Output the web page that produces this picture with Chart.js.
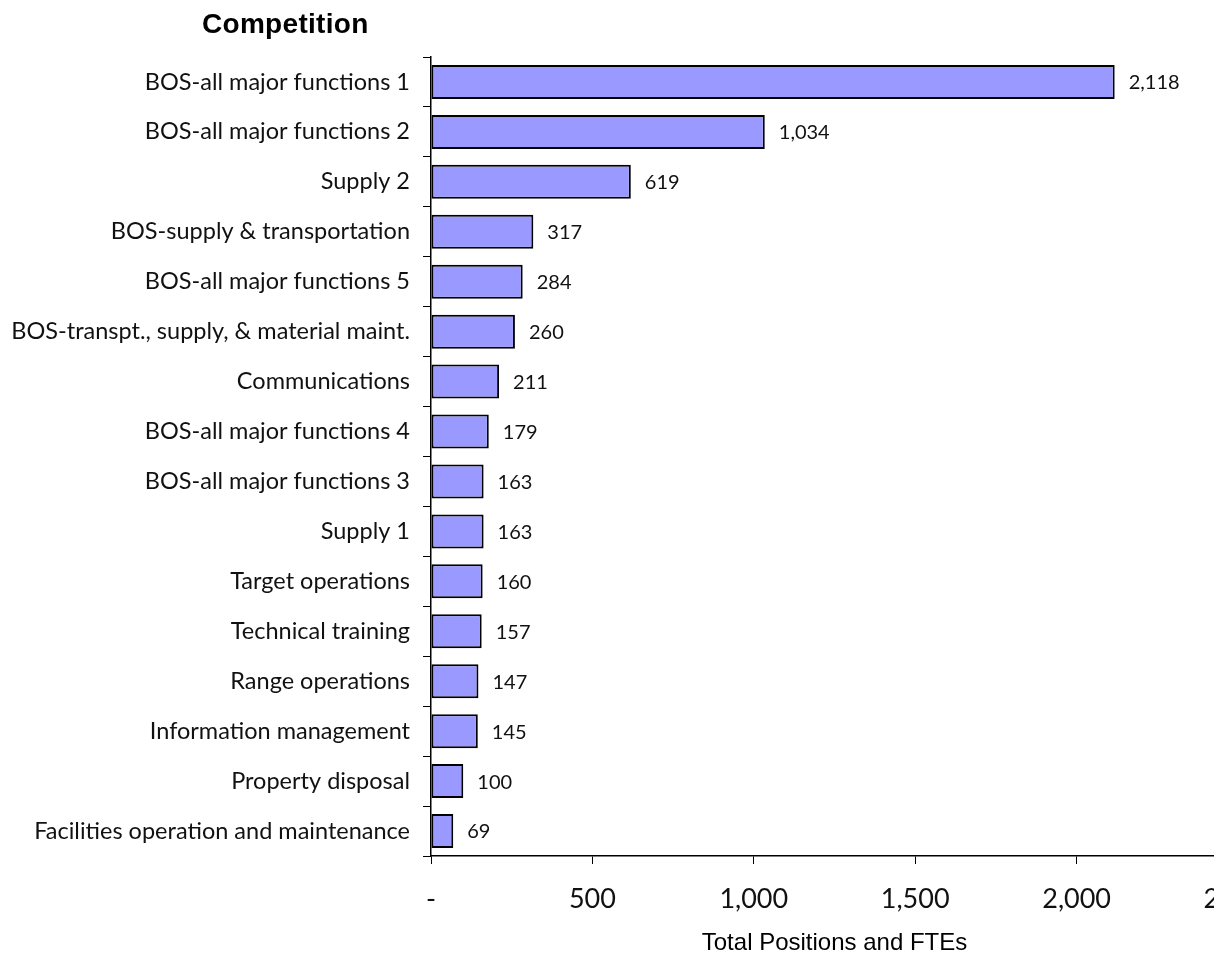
<!DOCTYPE html>
<html>
<head>
<meta charset="utf-8">
<script src="https://cdn.jsdelivr.net/npm/chart.js@4/dist/chart.umd.min.js"></script>
<style>
  body { margin: 0; background: #fff; }
  #wrap { position: relative; width: 1214px; height: 958px; overflow: hidden; }
  #title {
    position: absolute; left: 202px; top: 10px;
    font: bold 28px "Liberation Sans", Arial, sans-serif; line-height: 28px;
    letter-spacing: 0.3px; color: #000;
  }
  canvas { position: absolute; left: 0; top: 0; }
</style>
</head>
<body>
<div id="wrap">
  <canvas id="competitionChart" width="1300" height="958"></canvas>
  <div id="title">Competition</div>
</div>
<script>
var functions = [
  'BOS-all major functions 1',
  'BOS-all major functions 2',
  'Supply 2',
  'BOS-supply & transportation',
  'BOS-all major functions 5',
  'BOS-transpt., supply, & material maint.',
  'Communications',
  'BOS-all major functions 4',
  'BOS-all major functions 3',
  'Supply 1',
  'Target operations',
  'Technical training',
  'Range operations',
  'Information management',
  'Property disposal',
  'Facilities operation and maintenance'
];
var positions = [2118, 1034, 619, 317, 284, 260, 211, 179, 163, 163, 160, 157, 147, 145, 100, 69];
var xTicks = [0, 500, 1000, 1500, 2000, 2500];

function fmt(v) {
  return v === 0 ? '-' : v.toLocaleString('en-US');
}

// writes the value just past the end of each bar
var barValues = {
  id: 'barValues',
  afterDatasetsDraw: function(chart) {
    var ctx = chart.ctx;
    var meta = chart.getDatasetMeta(0);
    ctx.save();
    ctx.font = '20px Lato';
    ctx.fillStyle = '#111';
    ctx.textAlign = 'left';
    ctx.textBaseline = 'middle';
    meta.data.forEach(function(bar, i) {
      ctx.fillText(fmt(positions[i]), bar.x + 14, bar.y + 1);
    });
    ctx.restore();
  }
};

var ctx = document.getElementById('competitionChart').getContext('2d');
var chart = new Chart(ctx, {
  type: 'bar',
  data: {
    labels: functions,
    datasets: [{
      data: positions,
      backgroundColor: '#9999ff',
      borderColor: '#000',
      borderWidth: 2,
      borderSkipped: false,
      categoryPercentage: 1,
      barPercentage: 0.68
    }]
  },
  options: {
    indexAxis: 'y',
    responsive: false,
    animation: false,
    layout: { padding: { top: 57, right: 62, left: 0, bottom: 0 } },
    plugins: {
      legend: { display: false },
      tooltip: { enabled: false }
    },
    scales: {
      y: {
        afterFit: function(scale) { scale.width = 431; },
        grid: { offset: true, drawOnChartArea: false, tickLength: 8, color: '#000', lineWidth: 1 },
        border: { color: '#000', width: 1.5 },
        ticks: { color: '#111', padding: 13, font: { family: 'Lato', size: 23.5 } }
      },
      x: {
        min: 0,
        max: 2500,
        afterBuildTicks: function(scale) {
          scale.ticks = xTicks.map(function(v) { return { value: v }; });
        },
        afterFit: function(scale) { scale.height = 102; },
        grid: { drawOnChartArea: false, tickLength: 8, color: '#000', lineWidth: 1 },
        border: { color: '#000', width: 1.5 },
        ticks: {
          color: '#111', padding: 19, maxRotation: 0, autoSkip: false,
          font: { family: 'Lato', size: 27 },
          callback: function(v) { return fmt(v); }
        },
        title: {
          display: true,
          text: 'Total Positions and FTEs',
          color: '#000',
          padding: { top: 0, bottom: 0 },
          font: { family: 'Liberation Sans', size: 24 }
        }
      }
    }
  },
  plugins: [barValues]
});
</script>
</body>
</html>
